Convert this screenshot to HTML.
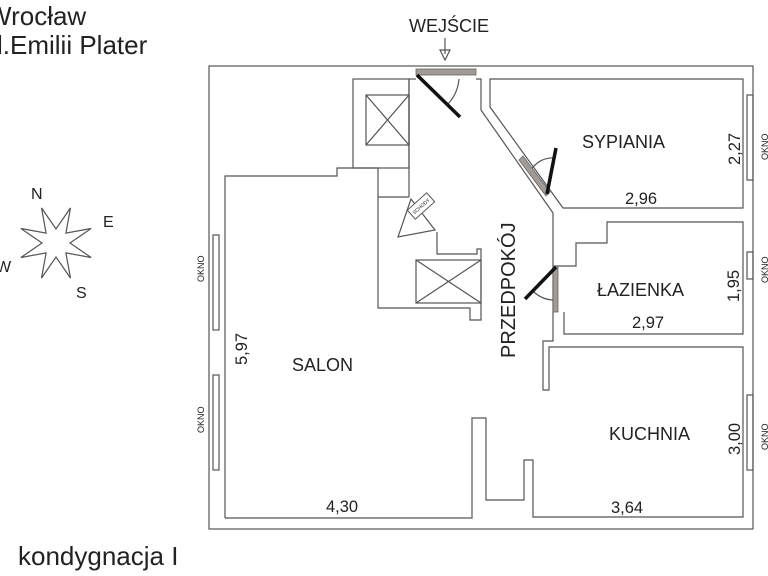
<!DOCTYPE html><html><head><style>body{margin:0;background:#fff}svg{display:block}text{font-family:"Liberation Sans",sans-serif;fill:#222}</style></head><body>
<svg width="768" height="576" viewBox="0 0 768 576" xmlns="http://www.w3.org/2000/svg">
<g fill="none" stroke="#555" stroke-width="1.2">
<rect x="209" y="66" width="544" height="463"/>
<polyline points="225,518 225,176 337,176 337,168 378,168 378,308 470,308 470,320 481,320 481,249 477,249 477,254 437,254 437,232"/>
<polyline points="378,197 409,197"/>
<rect x="353" y="79" width="56" height="89"/>
<polyline points="409,79 409,197"/>
<polyline points="225,518 472,518 472,418 486,418 486,500 524,500 524,460 533,460 533,517 743,517 743,347 549,347 549,390 543,390 543,341 553,341 553,266"/>
<polyline points="564,312 564,334 743,334 743,222 607,222 607,243 576,243 576,266 553,266 553,213 481,110 481,79 476,79"/>
<polyline points="409,79 416,79"/>
<polygon points="490,79 743,79 743,208 563,208 490,107"/>
<rect x="366" y="95" width="43" height="50"/><line x1="366" y1="95" x2="409" y2="145"/><line x1="409" y1="95" x2="366" y2="145"/>
<rect x="416" y="260" width="65" height="43"/><line x1="416" y1="260" x2="481" y2="303"/><line x1="481" y1="260" x2="416" y2="303"/>
<polygon points="398,237 411,199 435,230"/>
<rect x="213" y="235" width="6" height="95"/><rect x="213" y="375" width="6" height="95"/>
<rect x="747" y="95" width="6" height="85"/><rect x="747" y="252" width="6" height="27"/><rect x="747" y="395" width="6" height="75"/>
<path d="M459,79 A42,42 0 0 1 447,105"/>
<path d="M531,170 A25,25 0 0 1 554,158"/>
<path d="M534,292 A30,30 0 0 0 553,300"/>
<polygon points="41.5,207.9 56,229 70.5,207.9 65.9,233.1 91.1,228.5 70,243 91.1,257.5 65.9,252.9 70.5,278.1 56,257 41.5,278.1 46.1,252.9 20.9,257.5 42,243 20.9,228.5 46.1,233.1"/>
<polyline points="445,38 445,54"/><polygon points="440,50 445,60 450,50"/>
</g>
<g transform="translate(421,206) rotate(-42)"><rect x="-13" y="-6" width="26" height="12" fill="#fff" stroke="#555"/><text x="0" y="2" font-size="5" text-anchor="middle">SCHODY</text></g>
<g fill="#a39a93" stroke="#666" stroke-width="0.8">
<rect x="416" y="69" width="60" height="6"/>
<polygon points="519,160 523,156 550,192 546,196"/>
<rect x="553" y="266" width="5" height="46"/>
</g>
<g stroke="#111" stroke-width="3.5">
<line x1="417" y1="75" x2="460" y2="117"/>
<line x1="547" y1="194" x2="556" y2="148"/>
<line x1="556" y1="267" x2="525" y2="299"/>
</g>
<text x="-13" y="25" font-size="26">Wrocław</text>
<text x="-3" y="54" font-size="26">l.Emilii Plater</text>
<text x="18" y="565" font-size="26">kondygnacja I</text>
<text x="409" y="32" font-size="18">WEJŚCIE</text>
<g font-size="16"><text x="31" y="199">N</text><text x="103" y="227">E</text><text x="-4" y="272">W</text><text x="76" y="298">S</text></g>
<g font-size="18">
<text x="582" y="148">SYPIANIA</text>
<text x="597" y="296">ŁAZIENKA</text>
<text x="292" y="371">SALON</text>
<text x="609" y="440">KUCHNIA</text>
</g>
<g font-size="16.5">
<text x="625" y="204">2,96</text>
<text x="632" y="328">2,97</text>
<text x="326" y="512">4,30</text>
<text x="611" y="513">3,64</text>
<text transform="translate(740,165) rotate(-90)">2,27</text>
<text transform="translate(739,302) rotate(-90)">1,95</text>
<text transform="translate(740,455) rotate(-90)">3,00</text>
<text transform="translate(247,365) rotate(-90)">5,97</text>
</g>
<text transform="translate(515,358) rotate(-90)" font-size="20">PRZEDPOKÓJ</text>
<g font-size="9">
<text transform="translate(204,282) rotate(-90)">OKNO</text>
<text transform="translate(204,433) rotate(-90)">OKNO</text>
<text transform="translate(768,160) rotate(-90)">OKNO</text>
<text transform="translate(768,283) rotate(-90)">OKNO</text>
<text transform="translate(768,450) rotate(-90)">OKNO</text>
</g>
</svg></body></html>
